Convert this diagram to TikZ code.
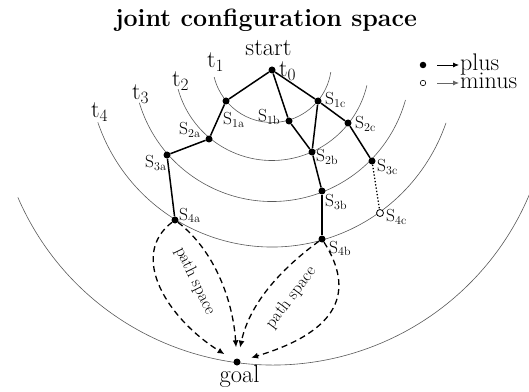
\documentclass[tikz,border=0pt]{standalone}
\usetikzlibrary{arrows.meta}
\begin{document}
\begin{tikzpicture}[x=1pt,y=1pt,
  dotnode/.style={circle,fill=black,inner sep=0pt,minimum size=7pt},
  opennode/.style={circle,draw=black,fill=white,line width=0.8pt,inner sep=0pt,minimum size=7pt},
  track/.style={black!65,line width=0.6pt},
  edge/.style={line width=1.5pt},
  slab/.style={font=\fontsize{17.5}{19}\selectfont,inner sep=0pt,anchor=base west},
  tlab/.style={font=\fontsize{24}{26}\selectfont,inner sep=0pt,anchor=base west},
  big/.style={font=\fontsize{24.5}{26}\selectfont,inner sep=0pt,anchor=base},
  pspace/.style={dash pattern=on 6pt off 4pt,line width=1.3pt,-{Latex[length=7pt,width=6pt]},shorten >=11pt},
  pslab/.style={font=\fontsize{17}{19}\selectfont,inner sep=0pt},
  legarrow/.style={line width=0.8pt,-{Latex[length=6pt,width=5pt]}}
]
\useasboundingbox (0,0) rectangle (529,391);
\coordinate (C) at (272,328);
\coordinate (O) at (273,304);
% time arcs
\draw[track] (C) ++(193.8:59.5pt) arc[start angle=193.8,end angle=351.2,radius=59.5pt];
\draw[track] (C) ++(195.6:97.5pt) arc[start angle=195.6,end angle=346.7,radius=97.5pt];
\draw[track] (C) ++(196.7:138.5pt) arc[start angle=196.7,end angle=344.5,radius=138.5pt];
\draw[track] (C) ++(198.8:184pt) arc[start angle=198.8,end angle=341,radius=184pt];
\draw[track] (O) ++(203.4:278pt) arc[start angle=203.4,end angle=337.4,radius=278pt];

% title
\node[big,font=\fontsize{25}{27}\selectfont\bfseries] (title) at (266,364) {joint configuration space};

% nodes
\node[dotnode] (start) at (272,321) {};
\node[dotnode] (s1a) at (226,290) {};
\node[dotnode] (s1b) at (289,270) {};
\node[dotnode] (s1c) at (318,290) {};
\node[dotnode] (s2a) at (209,252) {};
\node[dotnode] (s2b) at (312,239) {};
\node[dotnode] (s2c) at (348,268) {};
\node[dotnode] (s3a) at (167,236) {};
\node[dotnode] (s3b) at (322,200) {};
\node[dotnode] (s3c) at (372,230) {};
\node[dotnode] (s4a) at (175,171) {};
\node[dotnode] (s4b) at (322,152) {};
\node[opennode] (s4c) at (380,178) {};
\node[dotnode] (goal) at (237,29) {};

% edges
\draw[edge] (start) -- (s1a);
\draw[edge] (start) -- (s1b);
\draw[edge] (start) -- (s1c);
\draw[edge] (s1a) -- (s2a);
\draw[edge] (s1b) -- (s2b);
\draw[edge] (s1c) -- (s2b);
\draw[edge] (s1c) -- (s2c);
\draw[edge] (s2a) -- (s3a);
\draw[edge] (s2b) -- (s3b);
\draw[edge] (s2c) -- (s3c);
\draw[edge] (s3a) -- (s4a);
\draw[edge] (s3b) -- (s4b);
\draw[line width=1.3pt,dotted] (s3c) -- (s4c);

% path spaces
\draw[pspace] (s4a) .. controls (128,135) and (168,72) .. (goal);
\draw[pspace] (s4a) .. controls (215,140) and (233,90) .. (goal);
\draw[pspace] (s4b) .. controls (285,125) and (250,90) .. (goal);
\draw[pspace] (s4b) .. controls (355,100) and (340,60) .. (goal);
\node[pslab,rotate=-64] (psa) at (195,110) {path space};
\node[pslab,rotate=53] (psb) at (291,93.5) {path space};

% labels
\node[big] (lstart) at (268.5,335) {start};
\node[big] (lgoal) at (239.5,9) {goal};
\node[tlab] (t0) at (279,314) {t$_0$};
\node[tlab] (t1) at (207,323) {t$_1$};
\node[tlab] (t2) at (172,304) {t$_2$};
\node[tlab] (t3) at (132,291) {t$_3$};
\node[tlab] (t4) at (91,273) {t$_4$};

\node[slab] (l1a) at (223,266) {S$_{\mathrm{1a}}$};
\node[slab] (l1b) at (258,269) {S$_{\mathrm{1b}}$};
\node[slab] (l1c) at (325,286) {S$_{\mathrm{1c}}$};
\node[slab] (l2a) at (179,256) {S$_{\mathrm{2a}}$};
\node[slab] (l2b) at (316,229) {S$_{\mathrm{2b}}$};
\node[slab] (l2c) at (355,262) {S$_{\mathrm{2c}}$};
\node[slab] (l3a) at (145,223) {S$_{\mathrm{3a}}$};
\node[slab] (l3b) at (325,184) {S$_{\mathrm{3b}}$};
\node[slab] (l3c) at (377,219) {S$_{\mathrm{3c}}$};
\node[slab] (l4a) at (179,171) {S$_{\mathrm{4a}}$};
\node[slab] (l4b) at (329,138) {S$_{\mathrm{4b}}$};
\node[slab] (l4c) at (386,169) {S$_{\mathrm{4c}}$};

% legend
\node[circle,fill=black,inner sep=0pt,minimum size=6.5pt] (legp) at (423,326) {};
\node[circle,draw=black,line width=0.6pt,inner sep=0pt,minimum size=5.5pt] (legm) at (423,308) {};
\node[tlab] (lplus) at (460,320) {plus};
\node[tlab] (lminus) at (460,302) {minus};
\coordinate (ape) at (459,326);
\coordinate (ame) at (459,308);
\draw[legarrow] (legp) ++(14pt,0) -- (ape);
\draw[legarrow,black!60] (legm) ++(14pt,0) -- (ame);
\end{tikzpicture}
\end{document}
